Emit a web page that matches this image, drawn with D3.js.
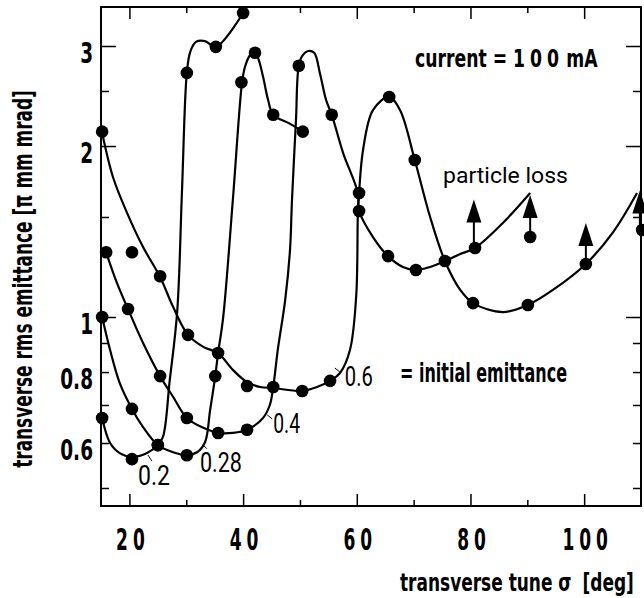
<!DOCTYPE html>
<html lang="en">
<head>
<meta charset="UTF-8">
<title>Emittance vs transverse tune</title>
<script src="https://d3js.org/d3.v7.min.js"></script>
<style>
  body { margin: 0; background: #fff; }
  svg { display: block; }
  .bold { font-family: "DejaVu Sans", sans-serif; font-weight: bold; fill: #000; }
  .thin { font-family: Roboto, "DejaVu Sans", sans-serif; fill: #000; }
</style>
</head>
<body>
<svg id="chart" width="644" height="598"></svg>
<script>
// axis ticks
const yTicks = [0.5, 0.6, 0.7, 0.8, 0.9, 1, 1.5, 2, 2.5, 3];
const yMajor = [1, 2, 3];
const yLabels = [0.6, 0.8, 1, 2, 3];
const xTicks = [20, 30, 40, 50, 60, 70, 80, 90, 100];
const xMajor = [20, 40, 60, 80, 100];
const xLabels = [20, 40, 60, 80, 100];

// hand-fitted curves, [tune sigma (deg), rms emittance]
const line02 = [[15.2,0.664],[16.6,0.600],[18.3,0.576],[20.6,0.567],[23.1,0.576],[25.0,0.595],[25.9,0.615],
  [27.1,0.775],[28.4,1.02],[29.25,1.67],[30.1,2.69],[30.7,2.93],[31.7,3.05],[33.3,3.06],[35.2,2.99],[40.0,3.43]];
const line028 = [[15.2,1.0],[16.6,0.875],[18.3,0.765],[20.45,0.689],[22.4,0.640],[25.0,0.595],[27.7,0.578],
  [30.1,0.571],[31.9,0.578],[33.3,0.602],[34.2,0.686],[35.1,0.787],[35.6,0.864],[36.5,1.0],[38.2,1.61],
  [39.8,2.58],[40.3,2.75],[41.2,2.89],[41.9,2.92],[42.6,2.86],[43.5,2.65],[44.4,2.41],[45.3,2.27],[48.2,2.19],[50.5,2.12]];
const line04 = [[15.9,1.30],[17.8,1.148],[19.75,1.033],[22.4,0.900],[25.4,0.787],[27.7,0.723],[30.1,0.664],
  [33.0,0.638],[35.6,0.625],[38.2,0.625],[40.7,0.633],[43.5,0.664],[44.7,0.700],[45.3,0.753],[46.1,0.875],
  [47.4,1.071],[48.25,1.312],[48.6,1.607],[49.3,2.22],[49.8,2.77],[50.5,2.89],[51.4,2.94],[52.5,2.92],
  [53.5,2.69],[54.6,2.41],[55.6,2.27],[57.6,1.944],[60.2,1.653],[60.4,1.537],[62.85,1.383],[65.5,1.280],
  [68.1,1.225],[70.4,1.210],[72.9,1.225],[75.5,1.255],[78.2,1.291],[80.8,1.323],[85.7,1.464],[90.5,1.653]];
const line06 = [[15.2,2.11],[17.1,1.764],[19.6,1.524],[22.4,1.328],[25.4,1.176],[27.7,1.041],[30.3,0.930],
  [33.0,0.886],[35.6,0.864],[38.2,0.807],[40.7,0.768],[43.0,0.753],[45.3,0.750],[50.4,0.741],[53.0,0.753],
  [55.3,0.772],[57.05,0.797],[58.8,0.875],[59.9,1.09],[60.2,1.537],[60.4,1.653],[61.1,1.968],[62.85,2.314],
  [65.7,2.44],[67.6,2.314],[70.2,1.89],[72.9,1.50],[75.5,1.255],[78.2,1.116],[80.45,1.058],[85.7,1.020],
  [90.1,1.050],[94.5,1.116],[100.3,1.240],[105.1,1.411],[109.3,1.653]];

// simulated points
const dots02 = [[15.2,0.664],[20.45,0.562],[25.0,0.595],[30.1,2.69],[35.2,2.99],[40.0,3.43]];
const dots028 = [[15.2,1.0],[20.45,0.689],[25.0,0.595],[30.1,0.571],[35.1,0.787],[39.7,2.59],[42.1,2.92],[45.3,2.27],[50.5,2.12]];
const dots04 = [[15.9,1.30],[19.75,1.033],[25.4,0.787],[30.1,0.664],[35.6,0.625],[40.7,0.633],[45.3,0.753],
  [49.8,2.77],[55.6,2.27],[60.4,1.537],[65.5,1.280],[70.4,1.210],[75.5,1.255],[80.8,1.323]];
const dots06 = [[15.2,2.12],[20.45,1.30],[25.4,1.18],[30.3,0.930],[35.6,0.864],[40.7,0.756],[50.4,0.741],
  [55.3,0.772],[60.4,1.653],[65.7,2.44],[70.2,1.89],[80.45,1.058],[90.1,1.050],[100.3,1.240]];
const lossDots = [[90.5,1.383],[110.2,1.423]];
// particle loss arrows: [sigma, from, tip]
const lossArrows = [[80.6,1.323,1.61],[90.5,1.383,1.64],[100.3,1.240,1.464],[109.8,1.423,1.67]];

// initial emittance labels: [text, sigma, emittance at baseline, width]
const curveLabels = [["0.2",21.5,0.506,32],["0.28",32.4,0.534,42],["0.4",45.3,0.625,27],["0.6",57.9,0.756,28]];
const leaderOffsets = [[10,-30,14,-24],[3,-27,7,-23],[-6,-18,-1,-14],[-10,-18,-5,-14]];

const mLeft = 101, mRight = 641, mTop = 7, mBottom = 506;
const x = d3.scaleLinear().domain([15, 110]).range([mLeft, mRight]);
const y = d3.scaleLog().domain([0.4648, 3.514]).range([mBottom, mTop]);

const svg = d3.select("#chart");

// squeeze a text horizontally so it spans the given width
function fitText(t, width, tr) {
  const w = t.node().getBBox().width;
  t.attr("transform", `${tr} scale(${width / w},1)`);
  return t;
}

// tick marks on all four sides
function ticks(axis, vals, len, tr) {
  svg.append("g").attr("transform", tr)
    .call(axis.tickValues(vals).tickSize(len).tickFormat(""))
    .call(g => g.select(".domain").remove())
    .selectAll("line").attr("stroke-width", 1.5);
}
const yMinor = yTicks.filter(v => !yMajor.includes(v));
const xMinor = xTicks.filter(v => !xMajor.includes(v));
ticks(d3.axisLeft(y), yMajor, -15, `translate(${mLeft},0)`);
ticks(d3.axisLeft(y), yMinor, -8, `translate(${mLeft},0)`);
ticks(d3.axisRight(y), yMajor, -15, `translate(${mRight},0)`);
ticks(d3.axisRight(y), yMinor, -8, `translate(${mRight},0)`);
ticks(d3.axisBottom(x), xMajor, -12, `translate(0,${mBottom})`);
ticks(d3.axisBottom(x), xMinor, -6, `translate(0,${mBottom})`);
ticks(d3.axisTop(x), xMajor, -12, `translate(0,${mTop})`);
ticks(d3.axisTop(x), xMinor, -6, `translate(0,${mTop})`);

// frame
svg.append("rect")
  .attr("x", mLeft).attr("y", mTop)
  .attr("width", mRight - mLeft).attr("height", mBottom - mTop)
  .attr("fill", "none").attr("stroke", "#000").attr("stroke-width", 2);

// tick labels
svg.append("g").attr("transform", `translate(${mLeft},0)`)
  .call(d3.axisLeft(y).tickValues(yLabels).tickSize(0).tickFormat(d3.format("")))
  .call(g => g.select(".domain").remove())
  .selectAll("text")
  .attr("class", "bold").attr("font-size", 28).attr("text-anchor", "end")
  .attr("x", null).attr("dy", null)
  .attr("transform", "translate(-8,16) scale(0.66,1)");

svg.append("g").attr("transform", `translate(0,${mBottom})`)
  .call(d3.axisBottom(x).tickValues(xLabels).tickSize(0))
  .call(g => g.select(".domain").remove())
  .selectAll("text")
  .attr("class", "bold").attr("font-size", 31).attr("letter-spacing", 9)
  .attr("y", null).attr("dy", null)
  .attr("transform", "translate(3,44) scale(0.55,1)");

// curves
const line = d3.line().x(d => x(d[0])).y(d => y(d[1])).curve(d3.curveCatmullRom.alpha(0.5));
const plot = svg.append("g");
[line02, line028, line04, line06].forEach(l => {
  plot.append("path").attr("d", line(l))
    .attr("fill", "none").attr("stroke", "#000").attr("stroke-width", 2.2);
});

// particle loss arrows
lossArrows.forEach(([s, from, tip]) => {
  const px = x(s), ty = y(tip);
  plot.append("line").attr("x1", px).attr("x2", px).attr("y1", y(from)).attr("y2", ty + 20)
    .attr("stroke", "#000").attr("stroke-width", 2);
  plot.append("path").attr("d", `M${px},${ty}L${px - 7.5},${ty + 23}L${px + 7.5},${ty + 23}Z`).attr("fill", "#000");
});

// dots
[dots02, dots028, dots04, dots06, lossDots].forEach(ds => {
  plot.append("g").selectAll("circle").data(ds).join("circle")
    .attr("cx", d => x(d[0])).attr("cy", d => y(d[1])).attr("r", 6.3).attr("fill", "#000");
});

// initial emittance labels with small leader strokes
curveLabels.forEach(([t, s, e, w], i) => {
  const px = x(s), py = y(e), o = leaderOffsets[i];
  const txt = svg.append("text").attr("class", "thin").attr("font-size", 28).text(t);
  fitText(txt, w, `translate(${px},${py})`);
  svg.append("line").attr("x1", px + o[0]).attr("y1", py + o[1]).attr("x2", px + o[2]).attr("y2", py + o[3])
    .attr("stroke", "#000").attr("stroke-width", 1);
});

// annotations
const cur = svg.append("text").attr("class", "bold").attr("font-size", 24);
cur.append("tspan").text("current = ");
cur.append("tspan").attr("letter-spacing", 7).text("100");
cur.append("tspan").attr("dx", 3).text("mA");
fitText(cur, 183, "translate(415,67)");

fitText(svg.append("text").attr("class", "bold").attr("font-size", 26).text("= initial emittance"),
  167, "translate(400,382)");
fitText(svg.append("text").attr("class", "thin").attr("font-size", 22).text("particle loss"),
  125, "translate(443,183)");

// axis titles
const xt = svg.append("text").attr("class", "bold").attr("font-size", 25);
xt.append("tspan").text("transverse tune σ");
xt.append("tspan").attr("dx", 16).text("[deg]");
fitText(xt, 234, "translate(400,591)");

fitText(svg.append("text").attr("class", "bold").attr("font-size", 27)
  .attr("text-anchor", "middle")
  .text("transverse rms emittance [π mm mrad]"), 378, "translate(32,279) rotate(-90)");
</script>
</body>
</html>
